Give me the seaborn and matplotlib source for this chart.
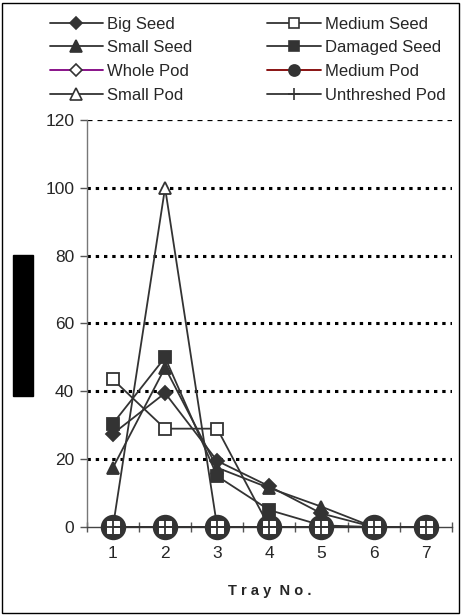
import matplotlib
matplotlib.use("Agg")
import matplotlib.pyplot as plt
from matplotlib.patches import Rectangle
from matplotlib.lines import Line2D
import seaborn as sns
import pandas as pd

# ---- data ----
trays = [1, 2, 3, 4, 5, 6, 7]
big_seed = [27.5, 39.5, 19.5, 12, 4, 0, 0]
medium_seed = [43.5, 29, 29, 0, 0, 0, 0]
small_seed = [17.5, 47, 17.5, 11.5, 6, 0, 0]
damaged_seed = [30.5, 50, 15, 5, 0.5, 0, 0]
whole_pod = [0, 0, 0, 0, 0, 0, 0]
medium_pod = [0, 0, 0, 0, 0, 0, 0]
small_pod = [0, 100, 0, 0, 0, 0, 0]
unthreshed_pod = [0, 0, 0, 0, 0, 0, 0]
y_ticks = [0, 20, 40, 60, 80, 100, 120]
x_label = "Tray No."

series = {
    "Big Seed": big_seed,
    "Medium Seed": medium_seed,
    "Small Seed": small_seed,
    "Damaged Seed": damaged_seed,
    "Whole Pod": whole_pod,
    "Medium Pod": medium_pod,
    "Small Pod": small_pod,
    "Unthreshed Pod": unthreshed_pod,
}

rows = []
for name, vals in series.items():
    for t, v in zip(trays, vals):
        rows.append({"tray": t, "value": v, "series": name})
df = pd.DataFrame(rows)

dark = "#333333"
styles = {
    "Big Seed": dict(color=dark, marker="D", ms=7, mfc=dark, mec=dark, z=4),
    "Medium Seed": dict(color=dark, marker="s", ms=8, mfc="white", mec=dark, z=5),
    "Small Seed": dict(color=dark, marker="^", ms=9, mfc=dark, mec=dark, z=6),
    "Damaged Seed": dict(color=dark, marker="s", ms=8, mfc=dark, mec=dark, z=7),
    "Whole Pod": dict(color="#800080", marker="D", ms=7, mfc="white", mec=dark, z=3),
    "Medium Pod": dict(color="#800000", marker="o", ms=17, mfc=dark, mec=dark, z=9),
    "Small Pod": dict(color=dark, marker="^", ms=9, mfc="white", mec=dark, z=8),
    "Unthreshed Pod": dict(color=dark, marker="+", ms=10, mfc=dark, mec=dark, z=11),
}

sns.set_style("white")
plt.rcParams["font.family"] = ["Liberation Sans", "DejaVu Sans"]

fig = plt.figure(figsize=(4.62, 6.15), dpi=100)
ax = fig.add_axes([0.188, 0.143, 0.79, 0.662])

for name in series:
    s = styles[name]
    sub = df[df["series"] == name]
    if name == "Unthreshed Pod":
        # white square backing behind the plus marker
        sns.lineplot(data=sub, x="tray", y="value", ax=ax, color=s["color"],
                     lw=1.3, marker="s", markersize=8.5, markerfacecolor="white",
                     markeredgecolor="white", legend=False, zorder=10,
                     clip_on=False)
    sns.lineplot(data=sub, x="tray", y="value", ax=ax, color=s["color"],
                 lw=1.3, marker=s["marker"], markersize=s["ms"],
                 markerfacecolor=s["mfc"], markeredgecolor=s["mec"],
                 markeredgewidth=1.3, legend=False, zorder=s["z"],
                 clip_on=False)

# gridlines
for yv in y_ticks[1:-1]:
    ax.axhline(yv, color="black", lw=2.2, ls=(0, (1.1, 1.6)), zorder=1)
ax.axhline(y_ticks[-1], color="black", lw=0.9, ls=(0, (4, 4)), zorder=1)

ax.set_xlim(0.5, 7.5)
ax.set_ylim(0, 120)
ax.set_yticks(y_ticks)
ax.set_xticks(trays)
ax.set_xticks([t - 0.5 for t in trays] + [7.5], minor=True)
ax.tick_params(axis="y", direction="out", length=5, width=1, color="#555555",
               labelsize=12.5, pad=4, left=True)
ax.tick_params(axis="x", which="major", length=0, labelsize=12.5, pad=14)
ax.tick_params(axis="x", which="minor", direction="inout", length=7, width=1,
               color="#555555", bottom=True)
for side in ["top", "right"]:
    ax.spines[side].set_visible(False)
ax.spines["left"].set_color("#777777")
ax.spines["left"].set_linewidth(1)
ax.spines["bottom"].set_color("#444444")
ax.spines["bottom"].set_linewidth(1)
ax.set_ylabel("")
ax.set_xlabel(" ".join(list(x_label)).replace("   ", "  "), fontsize=10.5,
              fontweight="bold", labelpad=16)
ax.set_facecolor("white")

# legend
col1 = ["Big Seed", "Small Seed", "Whole Pod", "Small Pod"]
col2 = ["Medium Seed", "Damaged Seed", "Medium Pod", "Unthreshed Pod"]
handles, labels = [], []
for name in col1 + col2:
    s = styles[name]
    ms = 8 if name == "Medium Pod" else s["ms"] * 0.9
    handles.append(Line2D([], [], color=s["color"], lw=1.3, marker=s["marker"],
                          markersize=ms, markerfacecolor=s["mfc"],
                          markeredgecolor=s["mec"], markeredgewidth=1.2))
    labels.append(name)
fig.legend(handles, labels, ncol=2, loc="upper left",
           bbox_to_anchor=(0.093, 0.984), frameon=False, fontsize=12,
           handlelength=3.2, handletextpad=0.25, columnspacing=4.5,
           labelspacing=0.52, borderaxespad=0)

# redacted y-label block and figure border
fig.patches.append(Rectangle((13 / 462, 1 - 396 / 615), 20 / 462, 141 / 615,
                             transform=fig.transFigure, color="black",
                             zorder=10))
fig.patches.append(Rectangle((2 / 462, 2 / 615), 457 / 462, 610 / 615,
                             transform=fig.transFigure, fill=False,
                             edgecolor="black", lw=1))

fig.savefig("out.png", dpi=100, facecolor="white")
